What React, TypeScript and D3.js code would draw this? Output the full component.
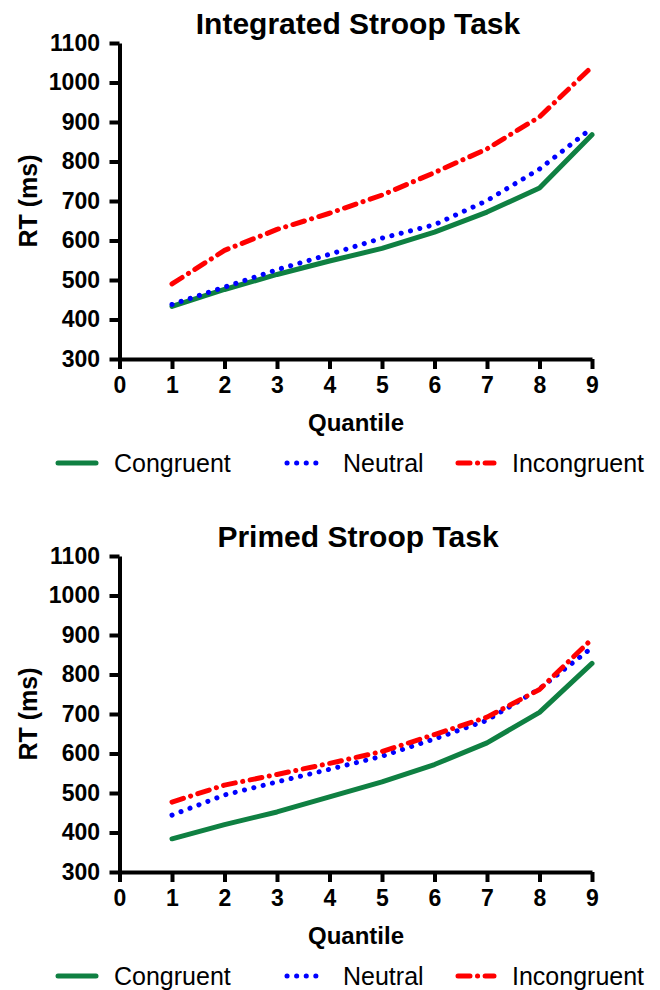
import { useEffect, useRef } from 'react';
import * as d3 from 'd3';

const quantiles = [1, 2, 3, 4, 5, 6, 7, 8, 9];
const xTicks = [0, 1, 2, 3, 4, 5, 6, 7, 8, 9];
const yTicks = [300, 400, 500, 600, 700, 800, 900, 1000, 1100];

const integratedCongruent = [433, 476, 514, 548, 580, 621, 672, 733, 868];
const integratedNeutral = [438, 482, 526, 565, 606, 640, 701, 781, 885];
const integratedIncongruent = [490, 575, 628, 669, 715, 772, 832, 913, 1040];

const primedCongruent = [384, 420, 452, 490, 528, 572, 627, 704, 828];
const primedNeutral = [444, 495, 528, 560, 593, 637, 684, 764, 868];
const primedIncongruent = [477, 520, 547, 575, 605, 648, 692, 762, 890];

const seriesNames = ['Congruent', 'Neutral', 'Incongruent'];

const FONT = '"Liberation Sans", Arial, sans-serif';
const GREEN = '#0f8042';
const BLUE = '#0000ff';
const RED = '#ff0000';

const styles = [
  { color: GREEN, dash: null, width: 5 },
  { color: BLUE, dash: '0.1 9.5', width: 5 },
  { color: RED, dash: '12 7.5 0.1 7.5', width: 5 },
];

const panels = [
  { title: 'Integrated Stroop Task', offset: 0, data: [integratedCongruent, integratedNeutral, integratedIncongruent] },
  { title: 'Primed Stroop Task', offset: 513, data: [primedCongruent, primedNeutral, primedIncongruent] },
];

export default function App() {
  const svgRef = useRef<SVGSVGElement>(null);

  useEffect(() => {
    if (!svgRef.current) return;
    const root = d3.select(svgRef.current);
    root.selectAll('*').remove();

    const x = d3.scaleLinear().domain([0, 9]).range([119.5, 592]);
    const y = d3.scaleLinear().domain([300, 1100]).range([359, 43]);

    const line = d3.line<number>()
      .x((_, i) => x(quantiles[i]))
      .y(d => y(d));

    panels.forEach(p => {
      const g = root.append('g').attr('transform', `translate(0,${p.offset})`);

      // titulo
      g.append('text')
        .attr('x', 358)
        .attr('y', 34)
        .attr('text-anchor', 'middle')
        .attr('font-family', FONT)
        .attr('font-weight', 'bold')
        .attr('font-size', 30)
        .text(p.title);

      // ejes
      const yAxis = g.append('g')
        .attr('transform', `translate(${x(0)},0)`)
        .call(d3.axisLeft(y).tickValues(yTicks).tickFormat(d3.format('d')).tickSize(10).tickSizeOuter(0).tickPadding(9.5));
      const xAxis = g.append('g')
        .attr('transform', `translate(0,${y(300)})`)
        .call(d3.axisBottom(x).tickValues(xTicks).tickFormat(d3.format('d')).tickSize(10).tickSizeOuter(0).tickPadding(8));

      [yAxis, xAxis].forEach(a => {
        a.attr('font-family', FONT).attr('font-size', 23).attr('font-weight', 'bold');
        a.select('.domain').attr('stroke-width', 4).attr('stroke', '#000');
        a.selectAll('.tick line').attr('stroke-width', 4).attr('stroke', '#000');
        a.selectAll('.tick text').attr('fill', '#000');
      });

      g.append('text')
        .attr('x', 356)
        .attr('y', 431)
        .attr('text-anchor', 'middle')
        .attr('font-family', FONT)
        .attr('font-weight', 'bold')
        .attr('font-size', 24)
        .text('Quantile');

      g.append('text')
        .attr('transform', `translate(37,${y(700)}) rotate(-90)`)
        .attr('text-anchor', 'middle')
        .attr('font-family', FONT)
        .attr('font-weight', 'bold')
        .attr('font-size', 25)
        .text('RT (ms)');

      // lineas
      p.data.forEach((vals, i) => {
        const s = styles[i];
        g.append('path')
          .datum(vals)
          .attr('fill', 'none')
          .attr('stroke', s.color)
          .attr('stroke-width', s.width)
          .attr('stroke-linecap', 'round')
          .attr('stroke-linejoin', 'round')
          .attr('stroke-dasharray', s.dash)
          .attr('d', line);
      });

      // leyenda
      const legendX = [
        { line: [58, 96], text: 114 },
        { line: [287, 319], text: 343 },
        { line: [458, 494], text: 512 },
      ];
      const legend = g.append('g')
        .selectAll('g')
        .data(seriesNames)
        .enter().append('g');

      legend.append('line')
        .attr('x1', (_, i) => legendX[i].line[0])
        .attr('x2', (_, i) => legendX[i].line[1])
        .attr('y1', 463)
        .attr('y2', 463)
        .attr('stroke', (_, i) => styles[i].color)
        .attr('stroke-width', 5)
        .attr('stroke-linecap', 'round')
        .attr('stroke-dasharray', (_, i) => styles[i].dash);

      legend.append('text')
        .attr('x', (_, i) => legendX[i].text)
        .attr('y', 472)
        .attr('font-family', FONT)
        .attr('font-size', 25)
        .attr('fill', '#000')
        .text(d => d);
    });
  }, []);

  return (
    <svg
      ref={svgRef}
      width={660}
      height={990}
      style={{ position: 'absolute', left: 0, top: 0, background: '#fff' }}
    />
  );
}
